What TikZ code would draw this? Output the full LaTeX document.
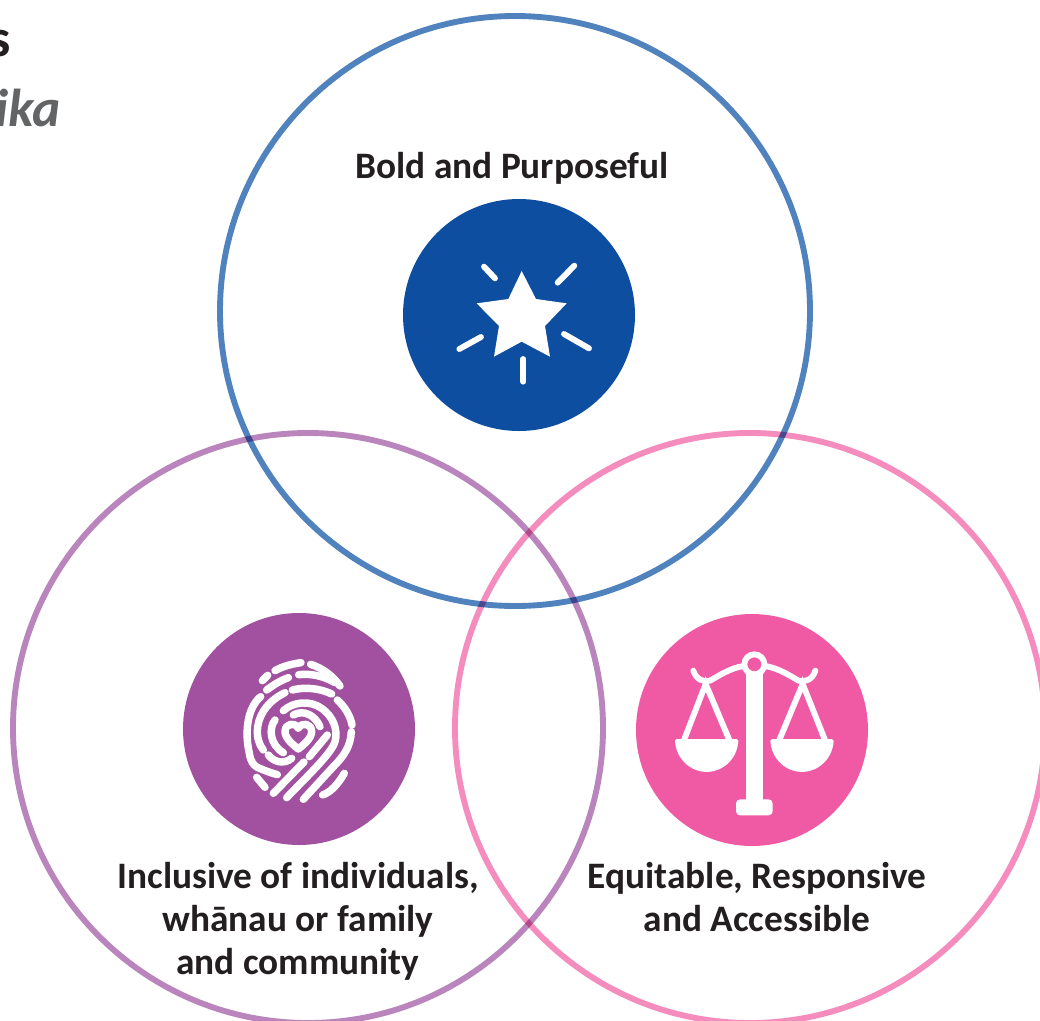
\documentclass[tikz,border=0pt]{standalone}
\usepackage{fontspec}
\setmainfont{Carlito}
\definecolor{blueline}{HTML}{5082BE}
\definecolor{bluefill}{HTML}{0D4EA0}
\definecolor{purpline}{HTML}{B985BC}
\definecolor{purpfill}{HTML}{A1519F}
\definecolor{pinkline}{HTML}{F48DBE}
\definecolor{pinkfill}{HTML}{F05AA4}
\definecolor{titledark}{HTML}{231F20}
\definecolor{titlegrey}{HTML}{636466}
\tikzset{
  ring/.style={line width=4.4pt,blend mode=multiply},
  lbl/.style={font=\fontsize{28}{32.25}\selectfont\bfseries,text=titledark,align=center,inner sep=0pt},
  glyph/.style={draw=white,line cap=round,line join=round},
  thick1/.style={glyph,line width=5.6pt},
  thin1/.style={glyph,line width=4.4pt},
  beam/.style={glyph,line width=4.4pt}
}
\begin{document}
\begin{tikzpicture}[x=0.75pt,y=-0.75pt]
\useasboundingbox (0,0) rectangle (1040,1021);
\clip (0,0) rectangle (1040,1021);
\fill[white] (0,0) rectangle (1040,1021);
% rings
\draw[ring,draw=pinkline] (750,728) circle[radius=295];
\draw[ring,draw=purpline] (308,728) circle[radius=295];
\draw[ring,draw=blueline] (515,311) circle[radius=295];
% discs
\fill[bluefill] (519,315) circle[radius=116];
\fill[purpfill] (299,729) circle[radius=116];
\fill[pinkfill] (752,730) circle[radius=116];
% title fragments
\node[anchor=base east,inner sep=0pt,text=titledark,font=\fontsize{40}{44}\selectfont\bfseries] (t1) at (11,56) {s};
\node[anchor=base east,inner sep=0pt,text=titlegrey,font=\fontsize{40}{44}\selectfont\bfseries\itshape] (t2) at (61,126) {ika};
% labels
\node[lbl,anchor=base] (bold) at (512,178) {Bold and Purposeful};
\node[lbl,anchor=north] (incl) at (298,862) {Inclusive of individuals,\\wh\=anau or family\\and community};
\node[lbl,anchor=north] (equi) at (757,862) {Equitable, Responsive\\and Accessible};
% star
\begin{scope}[shift={(440,250)},scale=1/3]
\fill[white] (245,63)--(288,147)--(380,160)--(315,228)--(330,320)--(245,275)--(162,320)--(177,228)--(110,160)--(205,147)--cycle;
\draw[thin1] (132,50)--(165,85);
\draw[thin1] (403,47)--(353,98);
\draw[thin1] (58,297)--(123,261);
\draw[thin1] (372,252)--(447,295);
\draw[thin1] (250,327)--(250,395);
\end{scope}
% scales
\begin{scope}[shift={(660,640)},scale=1/3]
\fill[white] (258,100) rectangle (308,490);
\fill[white,rounded corners=3pt] (228,478) rectangle (338,526);
\draw[white,line width=4.4pt] (283,73) circle[radius=30];
\draw[beam] (100,92) .. controls (108,118) and (130,128) .. (150,122) .. controls (180,105) and (210,85) .. (250,78);
\draw[beam] (466,92) .. controls (458,118) and (436,128) .. (416,122) .. controls (386,105) and (356,85) .. (316,78);
\draw[beam,line join=miter] (72,300)--(137,132)--(208,300);
\draw[beam,line join=miter] (358,300)--(428,132)--(495,300);
\fill[white] (45,302) .. controls (45,298) and (47,297) .. (50,297) -- (230,297) .. controls (233,297) and (235,298) .. (235,302) .. controls (232,360) and (185,396) .. (140,396) .. controls (95,396) and (48,360) .. (45,302) -- cycle;
\fill[white] (331,302) .. controls (331,298) and (333,297) .. (336,297) -- (516,297) .. controls (519,297) and (521,298) .. (521,302) .. controls (518,360) and (471,396) .. (426,396) .. controls (381,396) and (334,360) .. (331,302) -- cycle;
\end{scope}
% fingerprint
\begin{scope}[shift={(220,640)},scale=1/3]
\draw[thick1] (165,92) .. controls (190,78) and (215,72) .. (243,68);
\draw[thick1] (272,73) .. controls (310,85) and (340,110) .. (360,138);
\draw[thick1] (127,122)--(143,106);
\draw[thick1] (140,150) .. controls (160,135) and (180,122) .. (205,113);
\draw[thick1] (236,104) .. controls (275,100) and (310,108) .. (345,128);
\draw[thick1] (217,150) .. controls (255,140) and (300,145) .. (335,162);
\draw[thick1] (122,170) .. controls (85,200) and (72,270) .. (88,340) .. controls (92,365) and (100,375) .. (112,382) .. controls (130,390) and (150,398) .. (172,404);
\draw[thick1] (195,158) .. controls (150,180) and (120,215) .. (113,260) .. controls (110,290) and (115,310) .. (130,330);
\draw[thick1] (190,212) .. controls (220,185) and (270,180) .. (305,205) .. controls (340,230) and (355,270) .. (345,305) .. controls (335,340) and (260,410) .. (200,473);
\draw[thick1] (352,180) .. controls (375,200) and (392,230) .. (396,255);
\draw[thick1] (394,275) .. controls (392,320) and (370,350) .. (340,380) -- (250,478);
\draw[thick1] (373,400) .. controls (355,430) and (335,455) .. (308,465);
\draw[thick1] (160,460)--(252,366);
\draw[thick1] (110,412)--(135,442);
\draw[thick1] (145,345) .. controls (160,365) and (190,375) .. (215,355);
\draw[thick1] (165,240) .. controls (145,265) and (150,315) .. (190,338);
\draw[thick1] (220,225) .. controls (250,208) and (285,225) .. (300,260);
\draw[thick1] (268,350)--(322,285);
\draw[thick1] (235,265) .. controls (225,245) and (195,250) .. (195,275) .. controls (195,295) and (220,315) .. (235,327) .. controls (250,315) and (275,295) .. (275,275) .. controls (275,250) and (245,245) .. (235,265) -- cycle;
\end{scope}
\end{tikzpicture}
\end{document}
